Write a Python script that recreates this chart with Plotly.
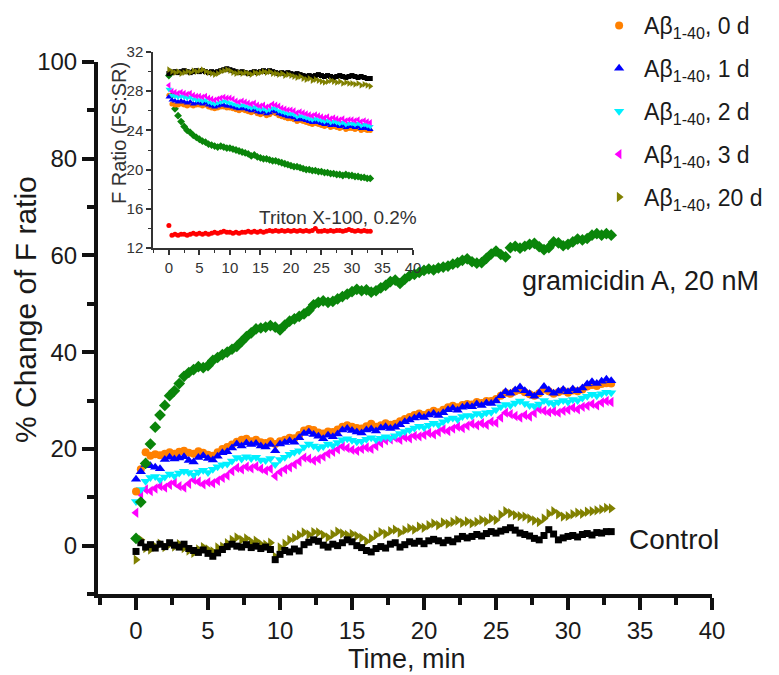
import plotly.graph_objects as go

# ---------------- main panel: % change of F ratio vs time ----------------
# sampling times in seconds (20 s interval)
time_main_s = [0, 20, 40, 60, 80, 100, 120, 140, 160, 180, 200, 220, 240, 260, 280, 300,
               320, 340, 360, 380, 400, 420, 440, 460, 480, 500, 520, 540, 560, 580, 600,
               620, 640, 660, 680, 700, 720, 740, 760, 780, 800, 820, 840, 860, 880, 900,
               920, 940, 960, 980, 1000, 1020, 1040, 1060, 1080, 1100, 1120, 1140, 1160,
               1180, 1200, 1220, 1240, 1260, 1280, 1300, 1320, 1340, 1360, 1380, 1400,
               1420, 1440, 1460, 1480, 1500, 1520, 1540, 1560, 1580, 1600, 1620, 1640,
               1660, 1680, 1700, 1720, 1740, 1760, 1780, 1800, 1820, 1840, 1860, 1880,
               1900, 1920, 1940, 1960, 1980]

gramicidin = [1.5, 9.0, 17.0, 21.0, 24.5, 27.0, 29.0, 31.0, 32.0, 33.5, 35.0, 35.8,
              36.4, 37.0, 36.8, 37.2, 38.3, 38.9, 39.5, 40.0, 40.6, 41.2, 42.2, 43.2,
              44.0, 44.8, 45.0, 45.2, 45.5, 45.2, 44.6, 45.6, 46.4, 46.9, 47.4, 47.9,
              48.6, 49.8, 50.3, 50.6, 50.3, 50.5, 51.0, 51.5, 52.0, 52.5, 53.0, 52.7,
              52.9, 52.4, 52.7, 53.3, 53.8, 54.6, 54.9, 54.2, 55.1, 55.8, 56.1, 56.5,
              56.9, 57.2, 57.0, 57.4, 57.6, 57.8, 58.2, 58.5, 59.0, 59.3, 58.7, 58.4,
              58.5, 59.4, 60.3, 60.9, 60.2, 59.7, 61.6, 61.9, 61.5, 61.9, 62.3, 62.5,
              61.8, 61.2, 61.6, 62.8, 62.6, 62.0, 62.3, 62.8, 63.4, 63.2, 63.5, 64.2,
              64.5, 64.2, 64.5, 64.2]

abeta_0d = [11.2, 15.8, 19.3, 18.6, 18.9, 18.7, 19.0, 19.3, 19.0, 19.4, 19.6, 19.2,
            19.0, 19.5, 19.2, 18.8, 18.6, 19.3, 20.0, 20.4, 20.9, 21.5, 21.9, 22.1,
            21.6, 21.9, 21.4, 21.2, 21.6, 21.0, 21.6, 21.9, 22.3, 22.2, 22.9, 23.8,
            24.1, 23.9, 23.4, 23.2, 23.6, 23.5, 24.0, 24.6, 24.9, 24.6, 24.3, 24.2,
            24.7, 25.2, 24.6, 24.9, 25.3, 25.0, 25.2, 25.7, 26.2, 26.6, 27.0, 27.3,
            27.0, 27.5, 27.9, 27.6, 28.1, 28.6, 28.9, 28.6, 29.1, 29.3, 29.2, 29.7,
            29.5, 29.9, 29.9, 30.3, 31.0, 31.6, 31.4, 31.9, 32.2, 31.7, 31.3, 31.0,
            31.5, 32.3, 31.9, 31.4, 31.7, 32.0, 31.6, 32.1, 31.9, 32.3, 32.9, 33.2,
            33.0, 33.4, 33.6, 33.5]

abeta_1d = [13.7, 15.3, 16.8, 16.5, 16.2, 15.9, 17.8, 18.3, 17.9, 18.1, 18.4, 17.6,
            17.3, 18.2, 18.6, 18.0, 17.7, 18.5, 19.2, 19.4, 20.2, 21.0, 20.6, 21.2,
            20.9, 21.1, 20.6, 20.4, 20.9, 19.6, 21.0, 21.3, 21.7, 21.4, 22.3, 23.2,
            23.5, 23.0, 22.6, 22.1, 22.8, 22.5, 23.1, 23.9, 24.2, 23.8, 23.5, 23.3,
            23.9, 24.1, 23.7, 24.3, 24.6, 24.2, 24.5, 25.0, 25.6, 26.0, 26.4, 26.8,
            26.5, 27.0, 27.3, 26.9, 27.5, 28.1, 28.4, 28.0, 28.6, 28.9, 28.7, 29.3,
            29.0, 29.5, 29.4, 29.9, 31.0, 31.8, 31.5, 32.2, 32.8, 32.0, 31.4, 30.9,
            31.6, 32.9, 32.2, 31.5, 31.9, 32.3, 31.8, 32.4, 32.0, 32.6, 33.4, 33.9,
            33.5, 34.0, 34.4, 34.1]

abeta_2d = [9.1, 11.6, 13.3, 14.1, 14.3, 13.6, 14.2, 14.8, 14.4, 15.0, 15.4, 15.1,
            14.6, 15.2, 15.6, 15.1, 15.8, 16.3, 16.7, 16.9, 17.5, 18.2, 17.9, 18.4,
            18.0, 18.3, 17.7, 17.6, 18.0, 16.8, 17.8, 18.3, 18.9, 19.3, 19.6, 20.4,
            21.0, 20.6, 20.2, 20.5, 21.0, 20.7, 21.3, 21.9, 22.1, 21.8, 21.5, 21.6,
            22.0, 22.3, 21.9, 22.2, 22.5, 22.2, 22.7, 23.2, 23.6, 23.9, 24.3, 24.7,
            24.4, 24.9, 25.3, 25.0, 25.6, 26.1, 26.4, 26.1, 26.7, 26.9, 26.8, 27.3,
            27.0, 27.5, 27.6, 28.1, 28.7, 29.2, 29.0, 29.5, 29.9, 29.4, 29.0, 28.8,
            29.3, 30.0, 29.6, 29.3, 29.7, 30.0, 29.7, 30.2, 30.0, 30.5, 30.9, 31.3,
            31.0, 31.4, 31.7, 31.6]

abeta_3d = [6.8, 10.6, 11.6, 11.3, 11.8, 12.3, 12.0, 12.6, 13.0, 12.3, 12.0, 12.8,
            13.6, 13.2, 12.7, 13.1, 12.9, 13.4, 14.0, 14.5, 15.4, 16.1, 15.8, 16.3,
            16.0, 16.4, 15.9, 15.5, 15.9, 14.4, 15.2, 15.8, 16.2, 16.8, 17.4, 18.2,
            18.0, 17.6, 17.9, 18.4, 19.0, 19.4, 19.9, 20.5, 20.2, 19.8, 19.6, 20.0,
            20.3, 20.0, 20.6, 21.2, 21.8, 22.0, 22.3, 21.9, 22.4, 22.2, 22.7, 22.6,
            22.9, 23.3, 23.0, 23.5, 24.0, 23.7, 24.2, 24.6, 24.3, 24.8, 25.2, 24.9,
            25.3, 25.0, 25.6, 25.4, 26.5, 27.5, 27.2, 26.8, 26.5, 27.0, 26.7, 27.4,
            28.2, 27.9, 27.6, 27.8, 27.5, 27.9, 28.1, 28.5, 28.2, 28.7, 28.9, 29.3,
            29.0, 29.6, 29.9, 29.7]

abeta_20d = [-2.9, 1.2, -0.5, -0.8, -0.2, 0.4, -0.3, 0.3, -0.2, 0.3, -0.5, -1.0,
             -1.5, -0.8, -0.3, -0.8, -1.2, -0.4, -0.2, 0.5, 1.2, 1.7, 1.2, 1.5,
             0.8, 1.0, 0.3, 0.2, 0.6, -2.3, -0.4, 0.4, 1.2, 1.6, 2.2, 2.7,
             2.3, 2.8, 2.7, 2.2, 1.7, 2.3, 2.9, 2.5, 2.2, 2.4, 2.0, 1.6,
             0.9, 1.5, 2.2, 2.8, 2.4, 3.0, 3.3, 2.7, 3.2, 3.6, 3.3, 3.9,
             3.7, 4.2, 4.6, 4.2, 4.8, 4.5, 4.9, 5.2, 4.7, 5.0, 4.6, 4.9,
             5.3, 5.0, 5.6, 5.3, 6.4, 7.1, 6.7, 6.3, 6.1, 6.0, 5.6, 5.2,
             4.9, 5.6, 6.6, 7.1, 6.5, 6.0, 6.1, 6.5, 6.8, 6.6, 7.0, 7.1,
             7.3, 7.5, 7.8, 7.7]

control = [-1.2, 0.6, -0.3, 0.2, -0.5, 0.3, -0.2, 0.6, 0.1, -0.3, 0.3, -0.6,
           -1.0, -1.4, -0.9, -1.6, -2.2, -1.5, -0.8, -0.2, 0.3, -0.1, -0.3, 0.2,
           -0.4, -0.1, -0.6, -0.3, -0.8, -2.9, -1.8, -1.0, -1.3, -0.7, -1.1, 0.2,
           0.7, 1.2, 0.9, 0.1, -0.3, 0.3, 0.0, 0.6, 1.2, 0.8, 0.0, -0.4,
           -1.0, -1.3, -0.6, -0.2, -0.5, 0.3, 0.6, -0.3, 0.2, 0.8, 0.5, 0.9,
           0.4, 1.0, 1.3, 1.0, 0.6, 1.1, 0.8, 1.4, 1.9, 1.6, 1.9, 2.3,
           2.0, 2.5, 2.9, 2.6, 3.0, 3.3, 3.7, 3.2, 2.6, 2.3, 2.0, 1.5,
           1.2, 2.1, 3.3, 2.4, 1.2, 1.6, 1.9, 2.1, 1.8, 2.3, 2.5, 2.2,
           2.7, 2.6, 2.9, 2.9]

# ---------------- inset: raw F ratio (FS:SR) ----------------
# sampling times in seconds (30 s interval)
time_inset_s = [0, 30, 60, 90, 120, 150, 180, 210, 240, 270, 300, 330, 360, 390, 420,
                450, 480, 510, 540, 570, 600, 630, 660, 690, 720, 750, 780, 810, 840,
                870, 900, 930, 960, 990, 1020, 1050, 1080, 1110, 1140, 1170, 1200, 1230,
                1260, 1290, 1320, 1350, 1380, 1410, 1440, 1470, 1500, 1530, 1560, 1590,
                1620, 1650, 1680, 1710, 1740, 1770, 1800, 1830, 1860, 1890, 1920, 1950,
                1980]

ratio_20d = [30.2, 30.0, 29.9, 30.0, 29.8, 29.9, 30.0, 29.9, 30.1, 30.0,
             30.1, 30.2, 30.0, 29.9, 29.8, 29.7, 29.8, 30.0, 30.1, 30.2,
             30.1, 29.9, 29.8, 29.9, 29.8, 29.9, 29.8, 29.7, 29.9, 29.8,
             29.9, 30.0, 29.9, 30.0, 29.8, 29.8, 29.7, 29.8, 29.6, 29.7,
             29.6, 29.5, 29.4, 29.5, 29.3, 29.2, 29.3, 29.1, 29.2, 29.1,
             29.0, 28.9, 29.0, 29.1, 29.0, 28.9, 29.0, 28.8, 28.9, 28.8,
             28.8, 28.7, 28.8, 28.6, 28.7, 28.6, 28.5]

ratio_control = [29.8, 29.9, 30.0, 29.9, 30.0, 30.1, 30.0, 29.9, 30.0, 30.1,
                 30.0, 30.1, 30.0, 29.9, 30.0, 29.9, 30.0, 30.1, 30.2, 30.3,
                 30.2, 30.1, 30.0, 29.9, 30.0, 29.9, 29.8, 29.9, 30.0, 29.9,
                 30.0, 30.1, 30.0, 30.1, 30.0, 29.9, 29.8, 29.9, 29.8, 29.9,
                 29.8, 29.7, 29.8, 29.7, 29.6, 29.5, 29.6, 29.5, 29.6, 29.7,
                 29.6, 29.5, 29.6, 29.5, 29.4, 29.5, 29.6, 29.5, 29.4, 29.5,
                 29.6, 29.5, 29.4, 29.5, 29.4, 29.3, 29.3]

ratio_3d = [28.6, 28.0, 27.9, 27.8, 27.9, 27.8, 27.7, 27.8, 27.6, 27.5,
            27.5, 27.4, 27.5, 27.3, 27.2, 27.1, 27.2, 27.3, 27.4, 27.3,
            27.3, 27.2, 27.0, 26.9, 27.0, 26.9, 26.8, 26.7, 26.8, 26.6,
            26.5, 26.6, 26.4, 26.5, 26.7, 26.6, 26.5, 26.3, 26.2, 26.1,
            26.1, 26.0, 25.8, 25.9, 25.8, 25.7, 25.6, 25.5, 25.6, 25.5,
            25.4, 25.3, 25.4, 25.2, 25.3, 25.2, 25.1, 25.2, 25.0, 25.1,
            25.1, 25.0, 25.1, 24.9, 25.0, 24.9, 24.8]

ratio_2d = [28.2, 27.6, 27.5, 27.4, 27.5, 27.4, 27.3, 27.4, 27.2, 27.1,
            27.1, 27.0, 27.1, 26.9, 26.8, 26.7, 26.8, 26.9, 27.0, 26.9,
            26.8, 26.7, 26.6, 26.5, 26.6, 26.5, 26.4, 26.3, 26.4, 26.2,
            26.1, 26.2, 26.0, 26.1, 26.3, 26.2, 26.0, 25.9, 25.8, 25.7,
            25.7, 25.6, 25.4, 25.5, 25.4, 25.3, 25.2, 25.1, 25.2, 25.1,
            25.0, 24.9, 25.0, 24.8, 24.9, 24.8, 24.7, 24.8, 24.6, 24.7,
            24.7, 24.6, 24.7, 24.5, 24.6, 24.5, 24.4]

ratio_1d = [27.4, 27.1, 27.0, 26.9, 27.0, 26.9, 26.8, 26.9, 26.7, 26.8,
            26.8, 26.7, 26.8, 26.6, 26.5, 26.4, 26.5, 26.6, 26.6, 26.5,
            26.5, 26.4, 26.3, 26.2, 26.3, 26.2, 26.1, 26.0, 26.1, 25.9,
            25.8, 25.9, 25.7, 25.8, 26.0, 25.9, 25.7, 25.6, 25.5, 25.4,
            25.4, 25.3, 25.1, 25.2, 25.1, 25.0, 24.9, 24.8, 24.9, 24.8,
            24.7, 24.6, 24.7, 24.5, 24.6, 24.5, 24.4, 24.5, 24.3, 24.4,
            24.4, 24.3, 24.4, 24.2, 24.3, 24.2, 24.1]

ratio_0d = [27.6, 26.7, 26.6, 26.6, 26.7, 26.6, 26.5, 26.6, 26.5, 26.6,
            26.6, 26.5, 26.6, 26.4, 26.3, 26.2, 26.3, 26.4, 26.4, 26.3,
            26.3, 26.2, 26.1, 26.0, 26.1, 26.0, 25.9, 25.8, 25.9, 25.7,
            25.6, 25.7, 25.5, 25.6, 25.8, 25.7, 25.5, 25.4, 25.3, 25.2,
            25.2, 25.1, 24.9, 25.0, 24.9, 24.8, 24.7, 24.6, 24.7, 24.6,
            24.5, 24.4, 24.5, 24.3, 24.4, 24.3, 24.2, 24.3, 24.1, 24.2,
            24.2, 24.1, 24.2, 24.0, 24.1, 24.0, 24.0]

ratio_gramicidin = [29.6, 27.6, 26.2, 25.5, 24.9, 24.4, 24.0, 23.8, 23.5, 23.3,
                    23.1, 22.9, 22.8, 22.6, 22.5, 22.4, 22.3, 22.4, 22.3, 22.2,
                    22.2, 22.1, 22.0, 21.9, 21.8, 21.7, 21.6, 21.4, 21.5, 21.3,
                    21.2, 21.1, 21.1, 21.0, 20.9, 20.9, 20.8, 20.7, 20.6, 20.5,
                    20.4, 20.3, 20.3, 20.2, 20.1, 20.0, 20.0, 19.9, 19.9, 19.8,
                    19.8, 19.7, 19.7, 19.6, 19.6, 19.5, 19.5, 19.4, 19.5, 19.4,
                    19.4, 19.3, 19.3, 19.2, 19.2, 19.1, 19.1]

ratio_triton = [14.3, 13.3, 13.4, 13.3, 13.4, 13.4, 13.3, 13.4, 13.5, 13.4,
                13.5, 13.4, 13.5, 13.4, 13.5, 13.6, 13.5, 13.6, 13.7, 13.6,
                13.6, 13.5, 13.6, 13.5, 13.6, 13.6, 13.7, 13.6, 13.7, 13.6,
                13.7, 13.6, 13.7, 13.8, 13.7, 13.8, 13.7, 13.8, 13.7, 13.8,
                13.7, 13.8, 13.7, 13.8, 13.7, 13.8, 13.7, 13.8, 14.0, 13.7,
                13.7, 13.8, 13.7, 13.8, 13.7, 13.8, 13.8, 13.7, 13.8, 13.9,
                13.8, 13.7, 13.8, 13.7, 13.8, 13.7, 13.7]

legend_labels = ["A\u03b2<sub>1-40</sub>, 0 d", "A\u03b2<sub>1-40</sub>, 1 d",
                 "A\u03b2<sub>1-40</sub>, 2 d", "A\u03b2<sub>1-40</sub>, 3 d",
                 "A\u03b2<sub>1-40</sub>, 20 d"]

FONT = "Liberation Sans, Arial, sans-serif"
ORANGE, BLUE, CYAN, MAGENTA = "#FF8000", "#0000FF", "#00F0FF", "#FF00FF"
OLIVE, GREEN, BLACK, RED = "#808000", "#0A850A", "#000000", "#FF0000"

t_main = [s / 60 for s in time_main_s]
t_inset = [s / 60 for s in time_inset_s]

fig = go.Figure()


def main_trace(y, name, color, symbol, size, rank=None, show=True):
    fig.add_trace(go.Scatter(
        x=t_main, y=y, mode="markers", name=name, showlegend=show,
        legendgroup=name, legendrank=rank if rank else 1000,
        marker=dict(color=color, symbol=symbol, size=size, line=dict(width=0)),
        xaxis="x", yaxis="y"))


def inset_trace(y, color, symbol, size=6):
    fig.add_trace(go.Scatter(
        x=t_inset, y=y, mode="markers", showlegend=False,
        marker=dict(color=color, symbol=symbol, size=size, line=dict(width=0)),
        xaxis="x2", yaxis="y2"))


# main panel, drawn bottom to top
main_trace(abeta_20d, legend_labels[4], OLIVE, "triangle-right", 9, rank=5)
main_trace(control, "Control", BLACK, "square", 7, show=False)
main_trace(abeta_3d, legend_labels[3], MAGENTA, "triangle-left", 9, rank=4)
main_trace(abeta_2d, legend_labels[2], CYAN, "triangle-down", 9, rank=3)
main_trace(abeta_0d, legend_labels[0], ORANGE, "circle", 8, rank=1)
main_trace(abeta_1d, legend_labels[1], BLUE, "triangle-up", 9, rank=2)
main_trace(gramicidin, "gramicidin A, 20 nM", GREEN, "diamond", 9, show=False)

# inset panel
inset_trace(ratio_triton, RED, "circle", 5)
inset_trace(ratio_gramicidin, GREEN, "diamond")
inset_trace(ratio_0d, ORANGE, "circle", 5)
inset_trace(ratio_1d, BLUE, "triangle-up")
inset_trace(ratio_2d, CYAN, "triangle-down")
inset_trace(ratio_3d, MAGENTA, "triangle-left")
inset_trace(ratio_control, BLACK, "square", 5)
inset_trace(ratio_20d, OLIVE, "triangle-right")

AX = "#111111"
TXT = "#1a1a1a"

main_axis = dict(showline=True, linewidth=4, linecolor=AX, mirror=False,
                 ticks="outside", ticklen=12, tickwidth=4, tickcolor=AX,
                 showgrid=False, zeroline=False,
                 tickfont=dict(family=FONT, size=24, color=TXT))
inset_axis = dict(showline=True, linewidth=1.5, linecolor="#333333", mirror=False,
                  ticks="outside", ticklen=5, tickwidth=1.5, tickcolor="#333333",
                  showgrid=False, zeroline=False,
                  tickfont=dict(family=FONT, size=15, color="#333333"))

fig.update_layout(
    width=779, height=675,
    margin=dict(l=98, r=67, t=40, b=81, autoexpand=False),
    paper_bgcolor="white", plot_bgcolor="white",
    font=dict(family=FONT, color=TXT),
    xaxis=dict(main_axis, domain=[0, 1], range=[-2.64, 40], tick0=0, dtick=5,
               minor=dict(dtick=2.5, ticks="outside", ticklen=7, tickwidth=3.5,
                          tickcolor=AX),
               anchor="y"),
    yaxis=dict(main_axis, domain=[0, 0.9603], range=[-10, 100], tick0=0, dtick=20,
               minor=dict(dtick=10, ticks="outside", ticklen=7, tickwidth=3.5,
                          tickcolor=AX),
               anchor="x"),
    xaxis2=dict(inset_axis, domain=[0.0896, 0.513], range=[-2.6, 40], tick0=0, dtick=5,
                minor=dict(dtick=2.5, ticks="outside", ticklen=3, tickwidth=1.2,
                           tickcolor="#333333"),
                anchor="y2"),
    yaxis2=dict(inset_axis, domain=[0.6245, 0.9783], range=[12, 32], tick0=12, dtick=4,
                minor=dict(dtick=2, ticks="outside", ticklen=3, tickwidth=1.2,
                           tickcolor="#333333"),
                anchor="x2"),
    legend=dict(x=0.808, y=1.065, xanchor="left", yanchor="top",
                font=dict(family=FONT, size=23, color=TXT),
                bgcolor="rgba(0,0,0,0)", tracegroupgap=10, itemwidth=40),
    annotations=[
        dict(text="% Change of F ratio", textangle=-90, xref="paper", yref="paper",
             x=-0.1189, y=0.5144, xanchor="center", yanchor="middle", showarrow=False,
             font=dict(family=FONT, size=30, color=TXT)),
        dict(text="Time, min", xref="paper", yref="paper", x=0.5033, y=-0.1166,
             xanchor="center", yanchor="middle", showarrow=False,
             font=dict(family=FONT, size=27, color=TXT)),
        dict(text="gramicidin A, 20 nM", xref="x", yref="y", x=26.7, y=54.65,
             xanchor="left", yanchor="middle", showarrow=False,
             font=dict(family=FONT, size=27, color=TXT)),
        dict(text="Control", xref="x", yref="y", x=34.1, y=1.2,
             xanchor="left", yanchor="middle", showarrow=False,
             font=dict(family=FONT, size=28, color=TXT)),
        dict(text="F Ratio (FS:SR)", textangle=-90, xref="paper", yref="paper",
             x=0.0342, y=0.832, xanchor="center", yanchor="middle", showarrow=False,
             font=dict(family=FONT, size=20, color="#333333")),
        dict(text="Triton X-100, 0.2%", xref="x2", yref="y2", x=14.43, y=15.12,
             xanchor="left", yanchor="middle", showarrow=False,
             font=dict(family=FONT, size=19, color="#333333")),
    ],
)

fig.write_html("out.html")
